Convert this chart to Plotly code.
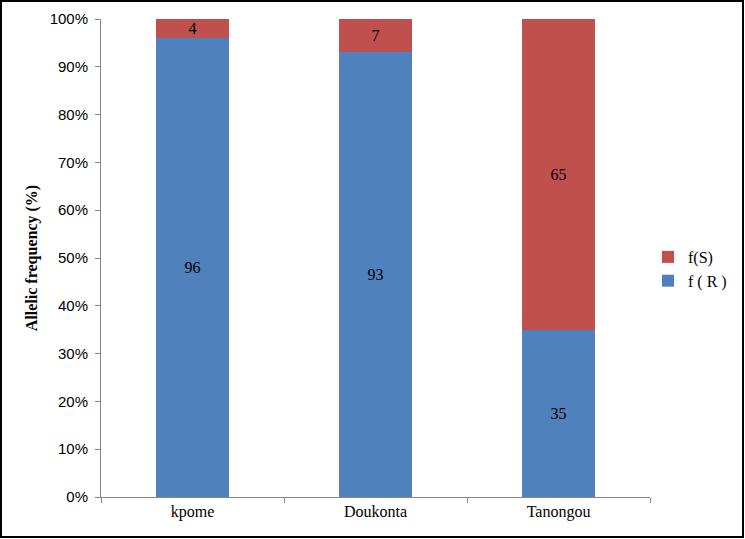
import plotly.graph_objects as go

categories = ["kpome", "Doukonta", "Tanongou"]
f_R = [96, 93, 35]
f_S = [4, 7, 65]

W, H = 745, 539
L, R, T, B = 101, 650, 19, 497
pw, ph = R - L, B - T

def px(x):
    return (x - L) / pw

def py(y):
    return (B - y) / ph

serif = "Liberation Serif"
sans = "Liberation Sans"

fig = go.Figure()
fig.add_trace(go.Bar(
    name="f ( R )", x=categories, y=f_R, marker_color="#4F81BD",
    marker_line_width=0, legendgroup="r",
    text=[str(v) for v in f_R], textposition="inside", insidetextanchor="middle",
    textangle=0, constraintext="none",
    textfont=dict(family=serif, size=16, color="#000000"), width=0.4,
))
fig.add_trace(go.Bar(
    name="f(S)", x=categories, y=f_S, marker_color="#C0504D",
    marker_line_width=0, legendgroup="s",
    text=[str(v) for v in f_S], textposition="inside", insidetextanchor="middle",
    textangle=0, constraintext="none",
    textfont=dict(family=serif, size=16, color="#000000"), width=0.4,
))

fig.update_layout(
    barmode="stack",
    width=W, height=H,
    margin=dict(l=L, r=W - R, t=T, b=H - B, autoexpand=False),
    paper_bgcolor="white", plot_bgcolor="white",
    showlegend=True,
    legend=dict(x=px(648), y=py(240), xanchor="left", yanchor="top",
                traceorder="reversed", font=dict(family=serif, size=16, color="#000"),
                tracegroupgap=10, bgcolor="rgba(0,0,0,0)"),
    uniformtext=dict(mode=False),
    xaxis=dict(
        showline=True, linecolor="#868686", linewidth=1,
        ticks="outside", tickson="boundaries", ticklen=5, tickcolor="#868686",
        tickfont=dict(family=serif, size=16, color="#000"),
        showgrid=False, range=[-0.5, 2.5],
    ),
    yaxis=dict(
        range=[0, 100], tickvals=[0, 10, 20, 30, 40, 50, 60, 70, 80, 90, 100],
        ticktext=[f"{v}%" for v in range(0, 101, 10)],
        showline=True, linecolor="#868686", linewidth=1,
        ticks="outside", ticklen=5, tickcolor="#868686",
        tickfont=dict(family=sans, size=15, color="#000"),
        ticklabelstandoff=4,
        showgrid=False, zeroline=False,
        title=dict(text="<b>Allelic frequency (%)</b>",
                   font=dict(family=serif, size=16, color="#000"), standoff=8),
    ),
    shapes=[dict(type="rect", xref="paper", yref="paper",
                 x0=px(1), x1=px(743), y0=py(537), y1=py(1),
                 line=dict(color="#000", width=2), fillcolor="rgba(0,0,0,0)",
                 layer="above")],
)

fig.write_html("out.html", config={"displayModeBar": False},
               post_script="document.body.style.margin='0';document.body.style.overflow='hidden';")
